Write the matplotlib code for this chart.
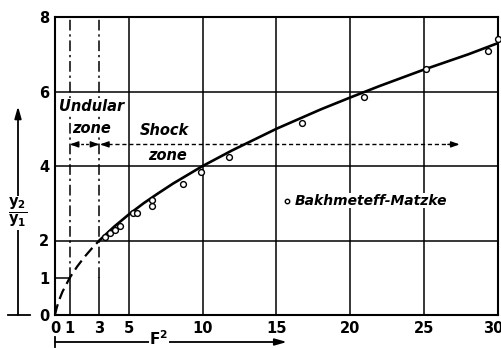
import matplotlib
matplotlib.use("Agg")
import matplotlib.pyplot as plt
import matplotlib.transforms as mtransforms

# Sequent depth ratio curve y2/y1 against F^2
curve_dash_F2 = [0, 0.1, 0.25, 0.5, 1, 1.5, 2, 2.5, 3]
curve_dash_y = [0, 0.17, 0.37, 0.62, 1.0, 1.30, 1.56, 1.79, 2.0]
curve_F2 = [3, 4, 5, 6, 7, 8, 10, 12, 15, 18, 20, 22, 25, 28, 30]
curve_y = [2.0, 2.37, 2.70, 3.0, 3.27, 3.53, 4.0, 4.42, 5.0, 5.52, 5.84, 6.15, 6.59, 7.0, 7.3]

# Bakhmeteff-Matzke observations
obs_F2 = [3.4, 3.7, 4.05, 4.4, 5.28, 5.55, 6.57, 6.57, 8.65, 9.86, 11.76, 16.7, 20.9, 25.1, 29.3, 30.0]
obs_y = [2.1, 2.2, 2.28, 2.39, 2.74, 2.75, 2.93, 3.09, 3.53, 3.83, 4.23, 5.15, 5.85, 6.6, 7.09, 7.42]

x_ticks = [0, 1, 3, 5, 10, 15, 20, 25, 30]
y_ticks = [0, 1, 2, 4, 6, 8]

W, H = 502, 348
fig = plt.figure(figsize=(W / 100, H / 100), dpi=100)
ax = fig.add_axes([55 / W, 1 - 315 / H, (498 - 55) / W, (315 - 17) / H])
ax.set_xlim(0, 30)
ax.set_ylim(0, 8)

for s in ax.spines.values():
    s.set_linewidth(1.5)

tick_font = dict(fontsize=10.5, fontweight="bold", family="DejaVu Sans")
ax.set_xticks(x_ticks)
ax.set_xticklabels([str(v) for v in x_ticks], **tick_font)
ax.set_yticks(y_ticks)
ax.set_yticklabels([str(v) for v in y_ticks], **tick_font)
ax.tick_params(length=0, pad=4)
# keep the last x label inside the figure edge
last = ax.get_xticklabels()[-1]
last.set_transform(last.get_transform() + mtransforms.ScaledTranslation(-5 / 100, 0, fig.dpi_scale_trans))

# grid
glw = 1.1
for xv in [5, 10, 15, 20, 25]:
    ax.axvline(xv, color="black", lw=glw, zorder=1)
for yv in [2, 4, 6]:
    ax.axhline(yv, color="black", lw=glw, zorder=1)
ax.plot([0, 1], [1, 1], color="black", lw=glw, zorder=1)
for xv in [1, 3]:
    ax.plot([xv, xv], [0, 1], color="black", lw=glw, zorder=1)
    ax.plot([xv, xv], [1, 8], color="black", lw=glw, zorder=1,
            linestyle=(0, (7, 2.5, 1.5, 2.5)))

# curve
ax.plot(curve_dash_F2, curve_dash_y, color="black", lw=1.6,
        linestyle=(0, (5, 2.5)), zorder=3)
ax.plot(curve_F2, curve_y, color="black", lw=1.9, zorder=3,
        solid_capstyle="round")

ax.plot(obs_F2, obs_y, linestyle="none", marker="o", markersize=4.2,
        markerfacecolor="white", markeredgecolor="black",
        markeredgewidth=1.0, zorder=4, clip_on=False)

# zone annotations
text_font = dict(fontsize=10.5, fontstyle="italic", fontweight="bold",
                 family="DejaVu Sans")
bbox_w = dict(facecolor="white", edgecolor="none", pad=0.3)
ax.text(2.5, 5.6, "Undular", ha="center", va="center", bbox=bbox_w,
        zorder=5, **text_font)
ax.text(2.45, 5.0, "zone", ha="center", va="center", bbox=bbox_w,
        zorder=5, **text_font)
ax.text(7.4, 4.95, "Shock", ha="center", va="center", bbox=bbox_w,
        zorder=5, **text_font)
ax.text(7.6, 4.27, "zone", ha="center", va="center", bbox=bbox_w,
        zorder=5, **text_font)

y_arrow = 4.58
ax.plot([1.1, 2.9], [y_arrow, y_arrow], color="black", lw=1.0,
        linestyle=(0, (2, 1.5)), zorder=5)
ax.plot([3.1, 27.2], [y_arrow, y_arrow], color="black", lw=1.0,
        linestyle=(0, (3, 2)), zorder=5)


def head(x_tip, x_from):
    ax.annotate("", xy=(x_tip, y_arrow), xytext=(x_from, y_arrow),
                arrowprops=dict(arrowstyle="-|>,head_length=0.5,head_width=0.18",
                                color="black", lw=1.0, shrinkA=0, shrinkB=0),
                zorder=6)


head(1.0, 1.6)
head(3.0, 2.4)
head(3.05, 3.7)
head(27.4, 26.6)

# legend label
ax.plot([15.7], [3.07], marker="o", markersize=3.2, markerfacecolor="white",
        markeredgecolor="black", markeredgewidth=1.0, linestyle="none", zorder=6)
ax.text(16.2, 3.07, "Bakhmeteff-Matzke", ha="left", va="center",
        bbox=dict(facecolor="white", edgecolor="none", pad=0.5), zorder=5,
        fontsize=10, fontstyle="italic", fontweight="bold", family="DejaVu Sans")

# vertical axis arrow with ratio label
fx = 18 / W
ax.plot([8 / W, 30 / W], [0, 0], color="black", lw=1.3,
        transform=mtransforms.blended_transform_factory(fig.transFigure, ax.transData),
        clip_on=False)
ax.annotate("", xy=(fx, 5.6), xytext=(fx, 0), xycoords=("figure fraction", "data"),
            textcoords=("figure fraction", "data"),
            arrowprops=dict(arrowstyle="-|>,head_length=0.7,head_width=0.2",
                            color="black", lw=1.3, shrinkA=0, shrinkB=0))
fig.text(fx, 1 - 213 / H, r"$\frac{\mathbf{y_2}}{\mathbf{y_1}}$", ha="center",
         va="center", fontsize=15, bbox=dict(facecolor="white", edgecolor="none", pad=0.2))

# horizontal axis arrow with F^2 label
fy = 1 - 342 / H
ax.annotate("", xy=(15.7, fy), xytext=(0, fy), xycoords=("data", "figure fraction"),
            textcoords=("data", "figure fraction"),
            arrowprops=dict(arrowstyle="-|>,head_length=0.7,head_width=0.2",
                            color="black", lw=1.3, shrinkA=0, shrinkB=0))
ax.plot([0, 0], [1 - 337 / H, 1 - 347 / H], color="black", lw=1.3,
        transform=mtransforms.blended_transform_factory(ax.transData, fig.transFigure),
        clip_on=False)
fig.text(159 / W, 1 - 339 / H, r"$\mathbf{F^2}$", ha="center", va="center", fontsize=11,
         bbox=dict(facecolor="white", edgecolor="none", pad=0.1))

fig.savefig("out.png", dpi=100, facecolor="white")
